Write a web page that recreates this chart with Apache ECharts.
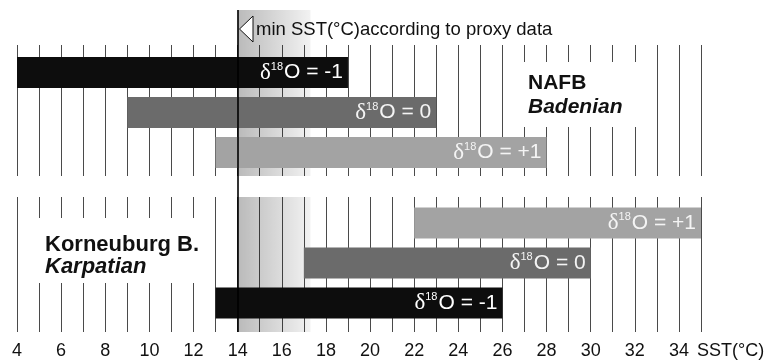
<!DOCTYPE html>
<html>
<head>
<meta charset="utf-8">
<script src="https://cdn.jsdelivr.net/npm/echarts@6/dist/echarts.min.js"></script>
<style>html,body{margin:0;padding:0;background:#fff}#c{width:770px;height:362px}</style>
</head>
<body>
<div id="c"></div>
<script>
// ---- data ----
const xMin = 4, xMax = 35;
const tickLabels = ['4','6','8','10','12','14','16','18','20','22','24','26','28','30','32','34'];
const axisName = 'SST(°C)';
// NAFB Badenian (top panel, top to bottom)
const topDelta = ['-1', '0', '+1'];
const topStart = [4, 9, 13];
const topEnd   = [19, 23, 28];
// Korneuburg B. Karpatian (bottom panel, top to bottom)
const botDelta = ['+1', '0', '-1'];
const botStart = [22, 17, 13];
const botEnd   = [35, 30, 26];
// min SST according to proxy data
const minSST = 14;
const bandEnd = 17.3;
const annotText = 'min SST(°C)according to proxy data';
const topTitle = ['NAFB', 'Badenian'];
const botTitle = ['Korneuburg B.', 'Karpatian'];

// ---- styles ----
const barColor = { '-1': '#0d0d0d', '0': '#6b6b6b', '+1': '#a3a3a3' };
const labColor = { '-1': '#ffffff', '0': '#f4f4f4', '+1': '#f4f4f4' };
const SANS = 'Liberation Sans, Arial, sans-serif';
const SERIF = 'Liberation Serif, Times New Roman, serif';
const L = 17, R = 69;

const chart = echarts.init(document.getElementById('c'), null, { renderer: 'canvas' });

function valAxis(gi, showLines, showLabels) {
  return {
    type: 'value', gridIndex: gi, min: xMin, max: xMax, interval: 1,
    axisLine: { show: false }, axisTick: { show: false },
    splitLine: { show: showLines, lineStyle: { color: '#4a4a4a', width: 1 } },
    axisLabel: showLabels ? {
      show: true, interval: 0, margin: 10, fontSize: 18, fontFamily: SANS, color: '#111',
      formatter: v => tickLabels.indexOf(String(v)) >= 0 ? String(v) : ''
    } : { show: false },
    name: showLabels ? axisName : '',
    nameLocation: 'end', nameGap: -4,
    nameTextStyle: { fontSize: 18, fontFamily: SANS, color: '#111', verticalAlign: 'top', padding: [10, 0, 0, 0] }
  };
}
function hiddenY(gi) {
  return { type: 'value', gridIndex: gi, min: 0, max: 1, show: false, splitLine: { show: false } };
}
function catY(gi, deltas) {
  return { type: 'category', gridIndex: gi, data: deltas, inverse: true, show: false };
}
function richLabel(d) { return '{d|δ}{s|18}{t|O = ' + d + '}'; }
function barSeries(ai, deltas, start, end) {
  return [
    { type: 'bar', xAxisIndex: ai, yAxisIndex: ai, stack: 's' + ai, barWidth: 31, silent: true,
      itemStyle: { color: 'rgba(0,0,0,0)' }, data: start.slice(), z: 3 },
    { type: 'bar', xAxisIndex: ai, yAxisIndex: ai, stack: 's' + ai, barWidth: 31, z: 3,
      data: deltas.map((d, i) => ({
        value: end[i] - start[i],
        itemStyle: { color: barColor[d] },
        label: { color: labColor[d] }
      })),
      label: {
        show: true, position: 'insideRight', distance: 5,
        formatter: p => richLabel(deltas[p.dataIndex]),
        rich: {
          d: { fontFamily: SERIF, fontSize: 23 },
          s: { fontFamily: SANS, fontSize: 11, padding: [0, 1, 12, 0] },
          t: { fontFamily: SANS, fontSize: 21 }
        }
      }
    }
  ];
}
const bandStyle = {
  color: { type: 'linear', x: 0, y: 0, x2: 1, y2: 0,
    colorStops: [{ offset: 0, color: 'rgba(0,0,0,0.27)' }, { offset: 1, color: 'rgba(0,0,0,0.05)' }] }
};

const option = {
  animation: false,
  backgroundColor: '#fff',
  grid: [
    { left: L, right: R, top: 45, height: 131 },   // 0 top lines
    { left: L, right: R, top: 52.5, height: 120 }, // 1 top bars
    { left: L, right: R, top: 197, height: 135 },  // 2 bottom lines
    { left: L, right: R, top: 203, height: 120 },  // 3 bottom bars
    { left: L, right: R, top: 10, height: 166 },   // 4 top band
    { left: L, right: R, top: 10, height: 322 }    // 5 min SST line
  ],
  xAxis: [
    valAxis(0, true, false), valAxis(1, false, false), valAxis(2, true, true),
    valAxis(3, false, false), valAxis(4, false, false), valAxis(5, false, false)
  ],
  yAxis: [
    hiddenY(0), catY(1, topDelta), hiddenY(2), catY(3, botDelta), hiddenY(4), hiddenY(5)
  ],
  series: [
    { type: 'line', xAxisIndex: 4, yAxisIndex: 4, data: [], z: 1, silent: true,
      markArea: { silent: true, itemStyle: bandStyle, data: [[{ xAxis: minSST }, { xAxis: bandEnd }]] } },
    { type: 'line', xAxisIndex: 2, yAxisIndex: 2, data: [], z: 1, silent: true,
      markArea: { silent: true, itemStyle: bandStyle, data: [[{ xAxis: minSST }, { xAxis: bandEnd }]] } },
    ...barSeries(1, topDelta, topStart, topEnd),
    ...barSeries(3, botDelta, botStart, botEnd),
    { type: 'line', xAxisIndex: 5, yAxisIndex: 5, data: [], z: 10, silent: true,
      markLine: { silent: true, symbol: ['none', 'none'], label: { show: false },
        lineStyle: { color: '#000', width: 1.6, type: 'solid' }, data: [{ xAxis: minSST }] } }
  ],
  graphic: [
    { type: 'polygon', z: 5, shape: { points: [[253, 16], [253, 42], [239.5, 29]] },
      style: { fill: '#fff', stroke: '#111', lineWidth: 1 } },
    { type: 'text', z: 5, x: 256, y: 30,
      style: { text: annotText, font: '18.5px ' + SANS, fill: '#111', verticalAlign: 'middle', align: 'left' } },
    { type: 'text', z: 1, x: 515, y: 62,
      style: {
        text: '{a|' + topTitle[0] + '}\n{b|' + topTitle[1] + '}',
        backgroundColor: '#fff', padding: [9, 17, 8, 13], align: 'left', verticalAlign: 'top',
        rich: {
          a: { fontFamily: SANS, fontWeight: 'bold', fontSize: 21, lineHeight: 24, fill: '#111' },
          b: { fontFamily: SANS, fontWeight: 'bold', fontStyle: 'italic', fontSize: 21, lineHeight: 24, fill: '#111' }
        }
      } },
    { type: 'text', z: 1, x: 30, y: 218,
      style: {
        text: '{a|' + botTitle[0] + '}\n{b|' + botTitle[1] + '}',
        backgroundColor: '#fff', padding: [16, 6, 5, 15], align: 'left', verticalAlign: 'top',
        rich: {
          a: { fontFamily: SANS, fontWeight: 'bold', fontSize: 22, lineHeight: 22, fill: '#111' },
          b: { fontFamily: SANS, fontWeight: 'bold', fontStyle: 'italic', fontSize: 22, lineHeight: 22, fill: '#111' }
        }
      } }
  ]
};
chart.setOption(option);
</script>
</body>
</html>
